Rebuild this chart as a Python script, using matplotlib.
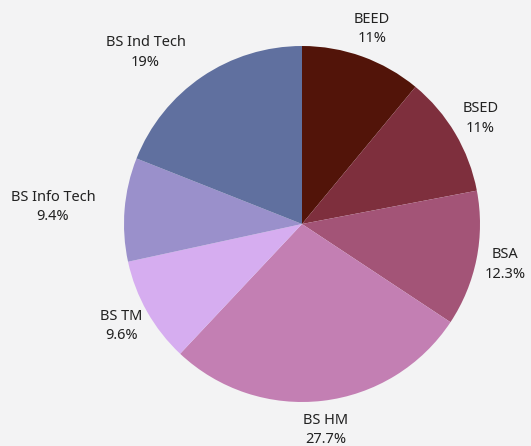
import matplotlib
matplotlib.use("Agg")
import matplotlib.pyplot as plt

categories = ["BEED", "BSED", "BSA", "BS HM", "BS TM", "BS Info Tech", "BS Ind Tech"]
values = [11.0, 11.0, 12.3, 27.7, 9.6, 9.4, 19.0]
pct_labels = ["11%", "11%", "12.3%", "27.7%", "9.6%", "9.4%", "19%"]
colors = ["#521409", "#7e2f3d", "#a35477", "#c37fb3", "#d6adf0", "#9a90cb", "#60709f"]
label_align = ["center", "center", "center", "center", "center", "right", "right"]

W, H = 531, 446
fig = plt.figure(figsize=(W / 100, H / 100), dpi=100)
fig.patch.set_facecolor("#f3f3f4")

cx, cy, r = 302, 446 - 224, 178
ax = fig.add_axes([(cx - r) / W, (cy - r) / H, 2 * r / W, 2 * r / H])
ax.set_facecolor("none")

labels = [f"{c}\n{p}" for c, p in zip(categories, pct_labels)]
wedges, texts = ax.pie(values, labels=labels, colors=colors, startangle=90,
                       counterclock=False, labeldistance=1.165, radius=1.0,
                       wedgeprops=dict(linewidth=0),
                       textprops=dict(fontsize=10.5, color="#222222",
                                      family=["Noto Sans", "DejaVu Sans"]))
for t, ha in zip(texts, label_align):
    t.set_ha(ha)
    t.set_va("center")
    t.set_multialignment("center")
    t.set_linespacing(1.42)

ax.set_xlim(-1, 1)
ax.set_ylim(-1, 1)
ax.set_aspect("equal")
ax.axis("off")

fig.savefig("out.png", dpi=100, facecolor=fig.get_facecolor())
